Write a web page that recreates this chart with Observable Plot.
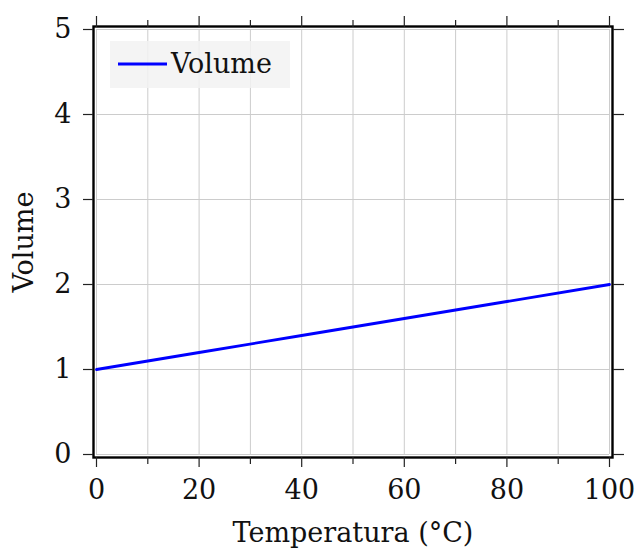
<!DOCTYPE html>
<html>
<head>
<meta charset="utf-8">
<script src="https://cdn.jsdelivr.net/npm/d3@7"></script>
<script src="https://cdn.jsdelivr.net/npm/@observablehq/plot@0.6"></script>
<style>
  html, body { margin: 0; padding: 0; background: #fff; }
  svg { display: block; }
</style>
</head>
<body>
<div id="chart"></div>
<script>
// Volume as a function of temperature
const temperatures = [0, 20, 40, 60, 80, 100];
const volumes = [1.0, 1.2, 1.4, 1.6, 1.8, 2.0];

const xMajorTicks = [0, 20, 40, 60, 80, 100];
const xMinorTicks = [10, 30, 50, 70, 90];
const yTicks = [0, 1, 2, 3, 4, 5];

const seriesName = "Volume";
const xLabel = "Temperatura (°C)";
const yLabel = "Volume";

const data = temperatures.map((t, i) => ({t, v: volumes[i]}));

const FONT = "DejaVu Serif";
const FS = 27;
const LINE_COLOR = "#0000ff";
const GRID = "#cccccc";
const INK = "#111";

// Legend box drawn in the upper-left corner of the frame
function legend(index, scales, values, dims) {
  const g = d3.create("svg:g");
  const x0 = dims.marginLeft + 14;
  const y0 = dims.marginTop + 12;
  g.append("rect")
    .attr("x", x0).attr("y", y0)
    .attr("width", 180).attr("height", 47)
    .attr("fill", "#f2f2f2").attr("fill-opacity", 0.85);
  g.append("line")
    .attr("x1", x0 + 8).attr("x2", x0 + 57)
    .attr("y1", y0 + 23).attr("y2", y0 + 23)
    .attr("stroke", LINE_COLOR).attr("stroke-width", 2.8);
  g.append("text")
    .attr("x", x0 + 61).attr("y", y0 + 32)
    .attr("text-anchor", "start")
    .attr("font-family", FONT).attr("font-size", FS)
    .attr("fill", INK)
    .text(seriesName);
  return g.node();
}

const blank = () => "";
const tickStyle = {stroke: "#222", strokeWidth: 1.2, label: null};

const chart = Plot.plot({
  width: 638,
  height: 548,
  marginLeft: 96,
  marginRight: 29,
  marginTop: 29,
  marginBottom: 94,
  style: {fontFamily: FONT, fontSize: FS + "px", background: "white", color: INK},
  x: {domain: [0, 100]},
  y: {domain: [0, 5]},
  marks: [
    Plot.gridX(xMajorTicks.concat(xMinorTicks), {stroke: GRID, strokeOpacity: 1, strokeWidth: 1}),
    Plot.gridY(yTicks, {stroke: GRID, strokeOpacity: 1, strokeWidth: 1}),
    Plot.line(data, {x: "t", y: "v", stroke: LINE_COLOR, strokeWidth: 2.8}),
    legend,
    Plot.frame({inset: -3, stroke: "black", strokeWidth: 2.4}),
    // bottom axis
    Plot.axisX(xMajorTicks, {...tickStyle, anchor: "bottom", dy: 3, tickSize: 10, tickPadding: 12, tickFormat: "d", fontSize: FS, fontFamily: FONT, fill: INK}),
    Plot.axisX(xMinorTicks, {...tickStyle, anchor: "bottom", dy: 3, tickSize: 7, tickFormat: blank}),
    // top axis (ticks only)
    Plot.axisX(xMajorTicks, {...tickStyle, anchor: "top", dy: -3, tickSize: 11, tickFormat: blank}),
    Plot.axisX(xMinorTicks, {...tickStyle, anchor: "top", dy: -3, tickSize: 7, tickFormat: blank}),
    // left axis
    Plot.axisY(yTicks, {...tickStyle, anchor: "left", dx: -3, tickSize: 10, tickPadding: 12, tickFormat: "d", fontSize: FS, fontFamily: FONT, fill: INK}),
    // right axis (ticks only)
    Plot.axisY(yTicks, {...tickStyle, anchor: "right", dx: 3, tickSize: 11, tickFormat: blank}),
    // axis titles
    Plot.text([xLabel], {frameAnchor: "bottom", dy: 79, lineAnchor: "middle", textAnchor: "middle", fontSize: FS, fontFamily: FONT, fill: INK}),
    Plot.text([yLabel], {frameAnchor: "left", dx: -72, rotate: -90, lineAnchor: "middle", textAnchor: "middle", fontSize: FS, fontFamily: FONT, fill: INK})
  ]
});

document.getElementById("chart").appendChild(chart);
</script>
</body>
</html>
